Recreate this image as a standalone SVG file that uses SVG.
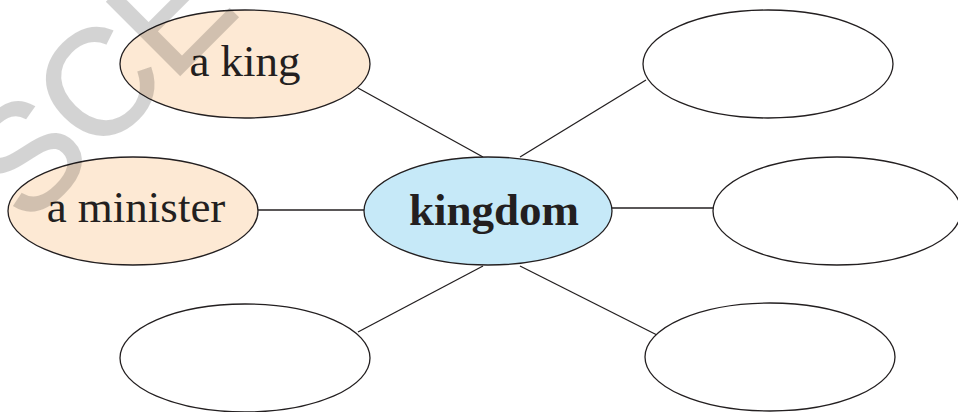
<svg xmlns="http://www.w3.org/2000/svg" width="958" height="412" viewBox="0 0 958 412">
<style>
.node{stroke:#231F20;stroke-width:1.3}
.peach{fill:#FDE9D4}
.blue{fill:#C6E9F8}
.empty{fill:#FFFFFF}
.lbl{font-family:"Liberation Serif","Times New Roman",serif;font-size:45px;fill:#231F20;text-anchor:middle}
.bold{font-weight:bold}
.conn line{stroke:#231F20;stroke-width:1.3}
.wm{font-family:"Liberation Sans",Arial,sans-serif;font-size:150px;letter-spacing:-2px;fill:#000;stroke:#000;stroke-width:2;opacity:0.17}
</style>
<rect width="958" height="412" fill="#FFFFFF"/>
<g id="connectors" class="conn">
<line x1="358" y1="88" x2="483" y2="157"/>
<line x1="520" y1="157" x2="646" y2="80"/>
<line x1="258" y1="210" x2="364" y2="210"/>
<line x1="612" y1="208" x2="714" y2="208"/>
<line x1="483" y1="266" x2="358" y2="332"/>
<line x1="520" y1="266" x2="657" y2="335"/>
</g>
<g id="node-king">
<ellipse class="node peach" cx="245" cy="64" rx="125" ry="54"/>
<text class="lbl" x="245" y="76">a king</text>
</g>
<g id="node-minister">
<ellipse class="node peach" cx="133" cy="211" rx="125" ry="54"/>
<text class="lbl" x="136" y="222">a minister</text>
</g>
<g id="node-kingdom">
<ellipse class="node blue" cx="488" cy="211" rx="124" ry="54"/>
<text class="lbl bold" x="494" y="225">kingdom</text>
</g>
<g id="node-top-right">
<ellipse class="node empty" cx="768" cy="64" rx="125" ry="54"/>
</g>
<g id="node-mid-right">
<ellipse class="node empty" cx="837" cy="211" rx="124" ry="54"/>
</g>
<g id="node-bottom-left">
<ellipse class="node empty" cx="245" cy="358" rx="125" ry="54"/>
</g>
<g id="node-bottom-right">
<ellipse class="node empty" cx="770" cy="357" rx="125" ry="54"/>
</g>
<text class="wm" transform="translate(27,228) rotate(-45)">SCE</text>
</svg>
